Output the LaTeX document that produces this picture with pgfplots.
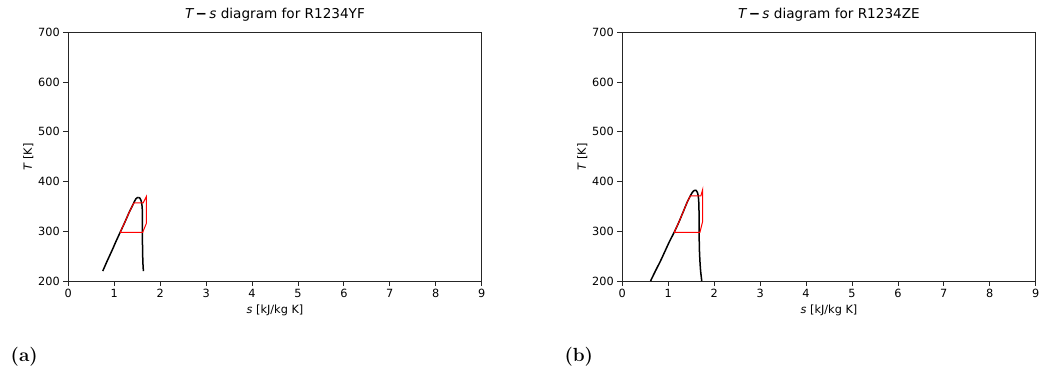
\documentclass[border=0pt]{standalone}
\usepackage{fontspec}
\usepackage{pgfplots}
\pgfplotsset{compat=1.18}
\newfontfamily\dejavu{DejaVu Sans}
\newcommand\tickfont{\dejavu\fontsize{11.3pt}{13pt}\selectfont}
\newcommand\titlefont{\dejavu\fontsize{13.6pt}{15pt}\selectfont}

\pgfplotsset{
  tsaxis/.style={
    scale only axis, width=413.4pt, height=248.7pt,
    xmin=0, xmax=9, ymin=200, ymax=700,
    xtick={0,1,...,9}, ytick={200,300,...,700},
    tick align=outside, tick pos=left,
    major tick length=5pt,
    axis line style={line width=0.9pt, black!85},
    every tick/.style={black!85, line width=0.8pt},
    /pgf/number format/assume math mode=true,
    every tick label/.append style={font=\tickfont},
    every axis label/.append style={font=\tickfont},
    xlabel={{\itshape s} [kJ/kg K]},
    ylabel={{\itshape T} [K]},
    xlabel style={at={(axis description cs:0.5,-0.1287)}, anchor=base},
    ylabel style={at={(axis description cs:-0.0968,0.5)}, anchor=center},
    every axis title/.append style={at={(axis description cs:0.5,1.0294)},
      anchor=base, font=\titlefont},
  },
  sat/.style={black, line width=1.5pt, smooth, tension=0.4},
  cyc/.style={red, line width=1pt},
}

\begin{document}
\begin{tikzpicture}[x=1pt,y=1pt]
\useasboundingbox (0,0) rectangle (1056,372);

% R1234yf
\begin{axis}[tsaxis, at={(68.3pt,91pt)}, anchor=south west,
  title={{\itshape T}\,{\bfseries −}\,{\itshape s} diagram for R1234YF}]
  % saturated liquid
  \addplot[sat] coordinates {
    (0.75,220) (0.85,241) (0.95,261) (1.04,280) (1.13,298) (1.23,318)
    (1.33,339) (1.40,352) (1.44,360) (1.47,365) (1.50,367.5) (1.525,368)};
  % saturated vapour
  \addplot[sat] coordinates {
    (1.525,368) (1.555,367) (1.58,363) (1.60,355) (1.61,345) (1.615,325)
    (1.615,300) (1.615,275) (1.62,250) (1.625,235) (1.635,220)};
  % cycle
  \addplot[cyc] coordinates {
    (1.13,298) (1.62,298) (1.70,316) (1.70,370) (1.63,357) (1.43,357)
    (1.40,352) (1.33,339) (1.23,318) (1.13,298)};
\end{axis}

% R1234ze
\begin{axis}[tsaxis, at={(622.3pt,91pt)}, anchor=south west,
  title={{\itshape T}\,{\bfseries −}\,{\itshape s} diagram for R1234ZE}]
  \addplot[sat] coordinates {
    (0.615,200) (0.72,220) (0.83,240) (0.93,260) (1.03,280) (1.13,298)
    (1.23,318) (1.33,340) (1.42,360) (1.48,371) (1.52,377.5) (1.55,381)
    (1.58,382.5)};
  \addplot[sat] coordinates {
    (1.58,382.5) (1.61,382) (1.635,378) (1.655,370) (1.665,358) (1.67,340)
    (1.67,320) (1.67,300) (1.675,280) (1.68,260) (1.69,240) (1.705,220)
    (1.73,200)};
  \addplot[cyc] coordinates {
    (1.13,298) (1.69,298) (1.75,320) (1.75,384) (1.71,371) (1.48,371)
    (1.42,360) (1.33,340) (1.23,318) (1.13,298)};
\end{axis}

\node[font=\bfseries\fontsize{19pt}{22pt}\selectfont, anchor=center] at (24.2,15) {(a)};
\node[font=\bfseries\fontsize{19pt}{22pt}\selectfont, anchor=center] at (578.8,15) {(b)};
\end{tikzpicture}
\end{document}
